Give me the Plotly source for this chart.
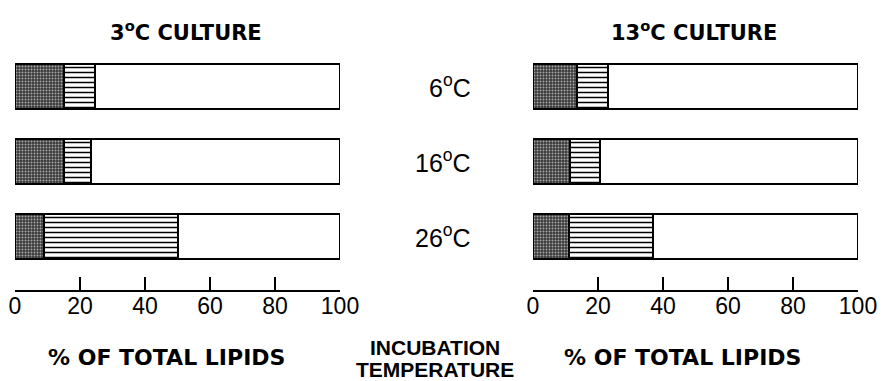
import plotly.graph_objects as go

# Incubation temperatures (rows, top to bottom)
temps = ["6°C", "16°C", "26°C"]
temp_labels = ["6<sup>o</sup>C", "16<sup>o</sup>C", "26<sup>o</sup>C"]

# 3°C culture: % of total lipids
c3_dark = [15.0, 15.0, 9.0]
c3_hatched = [9.5, 8.5, 41.0]
c3_rest = [75.5, 76.5, 50.0]

# 13°C culture: % of total lipids
c13_dark = [13.5, 11.5, 11.0]
c13_hatched = [9.5, 9.0, 26.0]
c13_rest = [77.0, 79.5, 63.0]

tick_vals = [0, 20, 40, 60, 80, 100]
tick_text = ["0", "20", "40", "60", "80", "100"]

FONT = "Liberation Sans, Arial, sans-serif"
WIDE = "DejaVu Sans, Liberation Sans, sans-serif"
NARROW = "Liberation Sans Narrow, Arial Narrow, Liberation Sans, sans-serif"

fig = go.Figure()

def add_panel(dark, hatched, rest, xa, ya):
    line = dict(color="black", width=2)
    fig.add_trace(go.Bar(
        y=temps, x=dark, orientation="h", xaxis=xa, yaxis=ya, width=0.6,
        marker=dict(color="#3c3c3c", line=line,
                    pattern=dict(shape=".", fgcolor="#a8a8a8", bgcolor="#383838",
                                 size=3, solidity=0.35, fillmode="replace")),
        cliponaxis=False, showlegend=False, hoverinfo="skip"))
    fig.add_trace(go.Bar(
        y=temps, x=hatched, orientation="h", xaxis=xa, yaxis=ya, width=0.6,
        marker=dict(color="white", line=line,
                    pattern=dict(shape="-", fgcolor="black", bgcolor="white",
                                 size=5, solidity=0.3, fillmode="replace")),
        cliponaxis=False, showlegend=False, hoverinfo="skip"))
    fig.add_trace(go.Bar(
        y=temps, x=rest, orientation="h", xaxis=xa, yaxis=ya, width=0.6,
        marker=dict(color="white", line=line),
        cliponaxis=False, showlegend=False, hoverinfo="skip"))

add_panel(c3_dark, c3_hatched, c3_rest, "x", "y")
add_panel(c13_dark, c13_hatched, c13_rest, "x2", "y2")

W, H = 882, 381
ydom = [1 - 290 / H, 1 - 50 / H]

xcommon = dict(range=[0, 100], showline=True, linewidth=2, linecolor="black",
               ticks="inside", ticklen=13, tickwidth=2, tickcolor="black",
               tickvals=tick_vals, ticktext=tick_text, showgrid=False,
               zeroline=False, tickfont=dict(family=FONT, size=23, color="black"),
               ticklabelstandoff=-6,
               fixedrange=True, automargin=False)
ycommon = dict(type="category", categoryarray=temps[::-1], range=[-0.72, 2.48],
               visible=False, fixedrange=True, automargin=False)

fig.update_layout(
    width=W, height=H, autosize=False,
    margin=dict(l=0, r=0, t=0, b=0, pad=0),
    paper_bgcolor="white", plot_bgcolor="white",
    barmode="stack", bargap=0,
    xaxis=dict(domain=[15 / W, 340 / W], anchor="y", **xcommon),
    yaxis=dict(domain=ydom, anchor="x", **ycommon),
    xaxis2=dict(domain=[533 / W, 858 / W], anchor="y2", **xcommon),
    yaxis2=dict(domain=ydom, anchor="x2", **ycommon),
)

ann = []
def text(t, xc, yc, font, xref="paper", yref="paper", xanchor="center"):
    ann.append(dict(text=t, x=xc, y=yc, xref=xref, yref=yref, xanchor=xanchor,
                    yanchor="middle", showarrow=False, font=font))

# panel titles
text("<b>3<sup>o</sup>C CULTURE</b>", 186 / W, 1 - 31 / H,
     dict(family=WIDE, size=21, color="black"))
text("<b>13<sup>o</sup>C CULTURE</b>", 694 / W, 1 - 31 / H,
     dict(family=WIDE, size=21, color="black"))
# incubation temperature row labels
for t, lab in zip(temps, temp_labels):
    text(lab, 473 / W, t, dict(family=FONT, size=25, color="black"),
         yref="y", xanchor="right")
# bottom labels
for xc in (166, 682):
    text("<b>% OF TOTAL LIPIDS</b>", xc / W, 1 - 357 / H,
         dict(family=WIDE, size=22, color="black"))
text("<b>INCUBATION</b>", 435 / W, 1 - 347 / H,
     dict(family=NARROW, size=21, color="black"))
text("<b>TEMPERATURE</b>", 435 / W, 1 - 369 / H,
     dict(family=NARROW, size=21, color="black"))
fig.update_layout(annotations=ann)

fig.write_html("out.html", config={"displayModeBar": False},
               post_script="document.body.style.margin='0';"
                           "document.body.style.overflow='hidden';")
